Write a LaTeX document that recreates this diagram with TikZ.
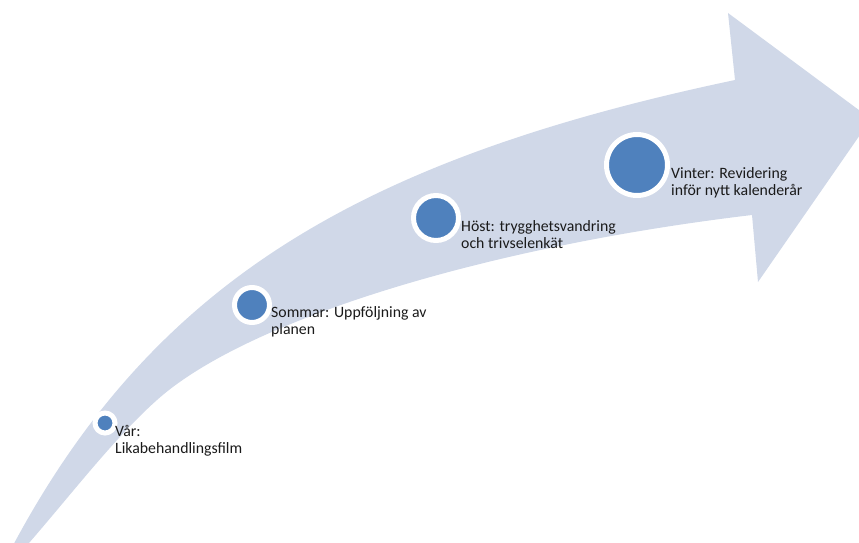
\documentclass[tikz,border=0pt]{standalone}
\usepackage{fontspec}
\setmainfont{Carlito}
\definecolor{arrowfill}{HTML}{D0D8E8}
\definecolor{dotfill}{HTML}{4F81BD}
\definecolor{txt}{HTML}{1A1A1A}
\begin{document}
\begin{tikzpicture}[x=1pt,y=-1pt,
  dot/.style={circle,fill=dotfill,draw=white,line width=5pt,inner sep=0pt},
  lbl/.style={anchor=north west,inner sep=0pt,align=left,text=txt,font=\fontsize{15.8}{17}\selectfont}]
\useasboundingbox (0,0) rectangle (859,543);
\clip (0,0) rectangle (859,543);
% curved arrow
\fill[arrowfill]
  (10,551) .. controls (152,282) and (360,159) .. (735,80)
  -- (728,13) -- (871,119) -- (758,282) -- (752,215)
  .. controls (483,247) and (245,321) .. (157,400)
  .. controls (113,439) and (67,500) .. (22,551)
  -- cycle;
% dots
\node[dot,minimum size=20pt] (d1) at (105,423) {};
\node[dot,minimum size=35pt] (d2) at (252,305) {};
\node[dot,minimum size=45pt] (d3) at (436,218) {};
\node[dot,minimum size=61pt] (d4) at (637,165) {};
% labels
\node[lbl] (t1) at (115,424) {\strut Vår:\\Likabehandlingsfilm};
\node[lbl] (t2) at (271,305) {\strut Sommar: Uppföljning av\\planen};
\node[lbl] (t3) at (461,219) {\strut Höst: trygghetsvandring\\och trivselenkät};
\node[lbl] (t4) at (671,166) {\strut Vinter: Revidering\\inför nytt kalenderår};
\end{tikzpicture}
\end{document}
